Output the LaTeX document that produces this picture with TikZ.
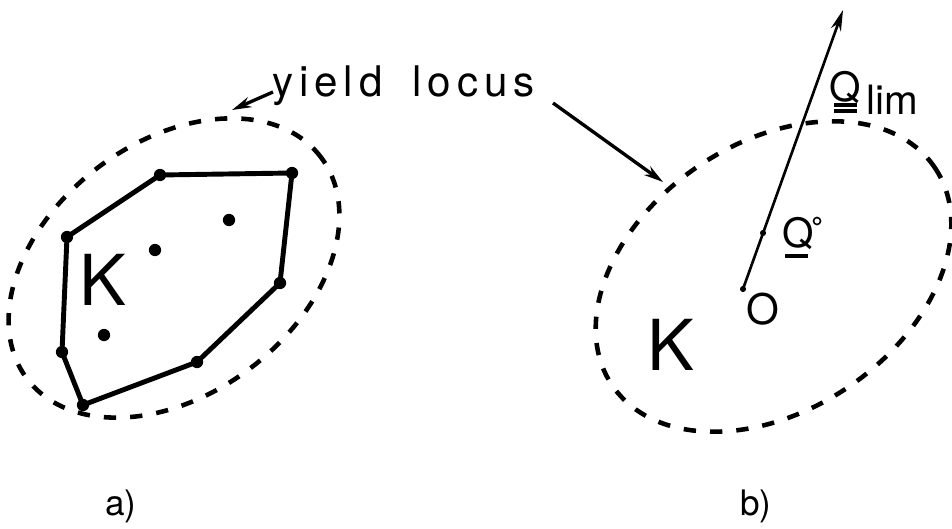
\documentclass[tikz,border=0pt]{standalone}
\usepackage{fontspec}
\setmainfont{TeX Gyre Heros}
\newfontfamily\spaced[LetterSpace=14]{TeX Gyre Heros}
\usetikzlibrary{arrows.meta}
\tikzset{
  locus/.style={line width=2.6pt, dash pattern=on 7pt off 8pt},
  poly/.style={line width=2.8pt, line join=round},
  vdot/.style={circle, fill=black, inner sep=0pt, minimum size=7pt},
  sdot/.style={circle, fill=black, inner sep=0pt, minimum size=3.5pt},
  lbl/.style={inner sep=0pt, anchor=base west},
  pointer/.style={line width=1.9pt, -{Stealth[length=11pt, width=6pt]}},
  qarrow/.style={line width=1.5pt, -{Stealth[length=12pt, width=6pt]}},
}
\begin{document}
\begin{tikzpicture}[x=0.02cm, y=0.02cm]
\useasboundingbox (0,0) rectangle (952,528);

% ---------- a) ----------
\draw[locus, rotate around={37:(174,260)}] (174,260) ellipse [x radius=184, y radius=126];
\node[vdot] (v1) at (160,353) {};
\node[vdot] (v2) at (292,355) {};
\node[vdot] (v3) at (280,245) {};
\node[vdot] (v4) at (197,166) {};
\node[vdot] (v5) at (83,123) {};
\node[vdot] (v6) at (62,176) {};
\node[vdot] (v7) at (67,291) {};
\draw[poly] (v1.center) -- (v2.center) -- (v3.center) -- (v4.center) -- (v5.center) -- (v6.center) -- (v7.center) -- cycle;
\node[vdot] (i1) at (229,308) {};
\node[vdot] (i2) at (155,278) {};
\node[vdot] (i3) at (104,193) {};
\node[lbl, font=\fontsize{40}{40}\selectfont] (kA) at (79,223) {K};
\node[lbl, font=\fontsize{20}{20}\selectfont] (la) at (105,13) {a)};

% ---------- label ----------
\node[lbl, font=\spaced\fontsize{24}{24}\selectfont] (yl) at (272,431) {yield\hspace{17pt}locus};
\coordinate (yA) at (273,436);
\coordinate (eA) at (232,418);
\coordinate (yB) at (553,425);
\coordinate (eB) at (663,346);
\draw[pointer] (yA) -- (eA);
\draw[pointer] (yB) -- (eB);

% ---------- b) ----------
\draw[locus, rotate around={34:(773.5,251.5)}] (773.5,251.5) ellipse [x radius=194.6, y radius=133.5];
\node[sdot] (o) at (743,239) {};
\node[sdot] (q0) at (763,295) {};
\coordinate (qtip) at (843,518);
\draw[qarrow] (o.center) -- (qtip);
\node[lbl, font=\fontsize{40}{40}\selectfont] (kB) at (647,158) {K};
\node[font=\fontsize{24}{24}\selectfont, inner sep=0pt] (oL) at (762.5,219) {O};
\node[lbl, font=\fontsize{23}{23}\selectfont] (qo) at (782,281) {Q};
\draw[line width=1.8pt] (qo.base west) ++(3,-9) coordinate (u1) -- ++(23,0) coordinate (u2);
\node[circle, draw, line width=0.9pt, inner sep=0pt, minimum size=4pt] (deg) at (817,307) {};
\node[lbl, font=\fontsize{23}{23}\selectfont] (ql) at (829,426) {Q};
\node[lbl, font=\fontsize{23}{23}\selectfont] (lim) at (866,413) {lim};
\draw[line width=2pt] (834,423) coordinate (w1) -- (857,423) coordinate (w2);
\draw[line width=2pt] (834,417) coordinate (w3) -- (857,417) coordinate (w4);
\node[lbl, font=\fontsize{20}{20}\selectfont] (lb) at (740,13) {b)};
\end{tikzpicture}
\end{document}
